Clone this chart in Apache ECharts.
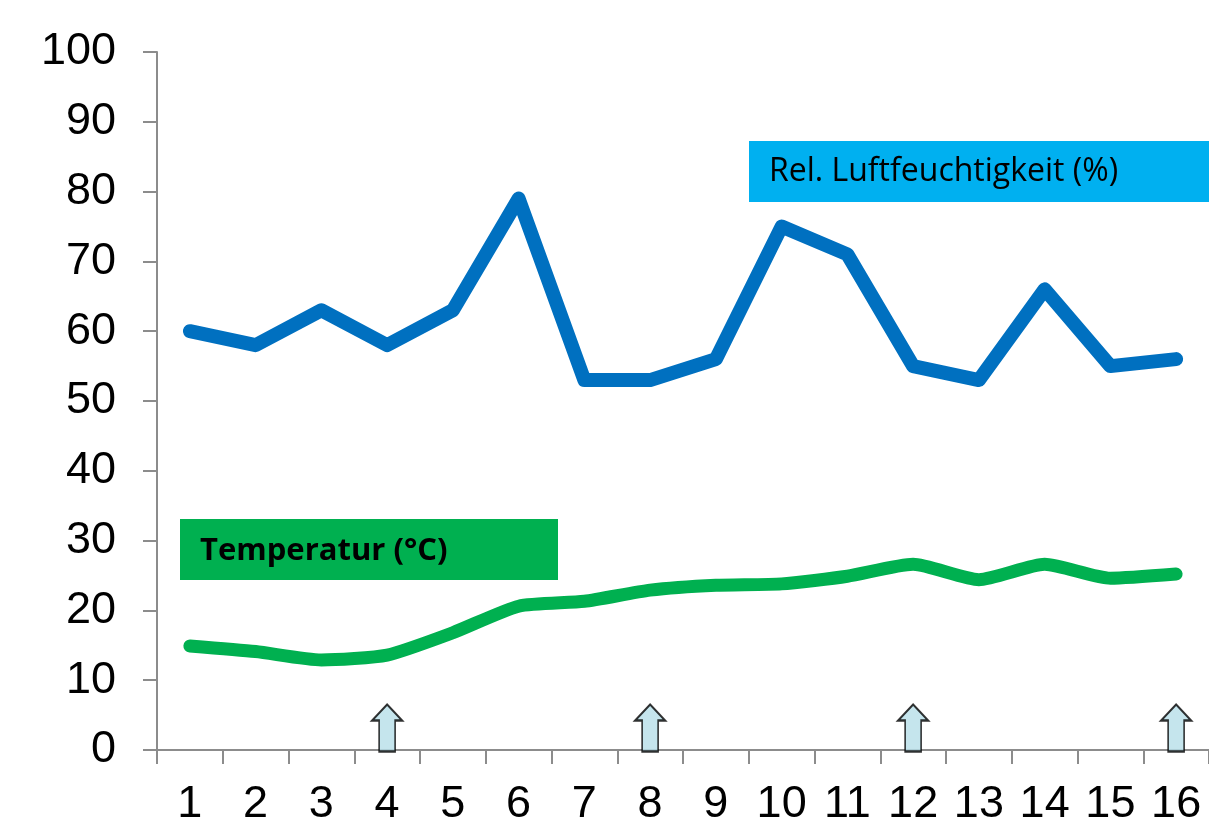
<!DOCTYPE html>
<html>
<head>
<meta charset="utf-8">
<script src="https://cdn.jsdelivr.net/npm/echarts@6/dist/echarts.min.js"></script>
<style>
  html, body { margin: 0; padding: 0; background: #fff; }
  #chart { width: 1209px; height: 828px; }
</style>
</head>
<body>
<div id="chart"></div>
<script>
const days = ['1', '2', '3', '4', '5', '6', '7', '8', '9', '10', '11', '12', '13', '14', '15', '16']
const humidity = [60, 58, 63, 58, 63, 79, 53, 53, 56, 75, 71, 55, 53, 66, 55, 56]
const temperature = [14.9, 14.1, 12.9, 13.6, 16.8, 20.6, 21.3, 22.9, 23.6, 23.8, 24.9, 26.6, 24.4, 26.6, 24.6, 25.2]
const markerDays = ['4', '8', '12', '16']
const humidityLabel = 'Rel. Luftfeuchtigkeit (%)'
const temperatureLabel = 'Temperatur (°C)'

const arrowPath = 'path://M7,47 L7,16 L0,16 L15,0 L30,16 L23,16 L23,47 Z'

const chart = echarts.init(document.getElementById('chart'))
const option = {
  animation: false,
  grid: {
    left: 157,
    top: 52,
    bottom: 78,
    width: 1060
  },
  xAxis: {
    type: 'category',
    data: days,
    boundaryGap: true,
    axisLine: { lineStyle: { color: '#8c8c8c', width: 2 } },
    axisTick: { show: true, length: 14, lineStyle: { color: '#8c8c8c', width: 2 } },
    axisLabel: {
      margin: 32,
      interval: 0,
      color: '#000',
      fontSize: 45,
      fontFamily: 'Liberation Sans'
    },
    splitLine: { show: false }
  },
  yAxis: {
    type: 'value',
    min: 0,
    max: 100,
    interval: 10,
    axisLine: { show: true, lineStyle: { color: '#8c8c8c', width: 2 } },
    axisTick: { show: true, length: 14, lineStyle: { color: '#8c8c8c', width: 2 } },
    axisLabel: {
      margin: 41,
      color: '#000',
      fontSize: 45,
      fontFamily: 'Liberation Sans'
    },
    splitLine: { show: false }
  },
  series: [
    {
      name: humidityLabel,
      type: 'line',
      data: humidity,
      symbol: 'none',
      lineStyle: { color: '#0070C0', width: 14, cap: 'round', join: 'round' },
      z: 3
    },
    {
      name: temperatureLabel,
      type: 'line',
      data: temperature,
      symbol: 'none',
      smooth: 0.2,
      lineStyle: { color: '#00B050', width: 13, cap: 'round', join: 'round' },
      z: 3
    },
    {
      type: 'scatter',
      data: markerDays.map(d => [d, 0]),
      symbol: arrowPath,
      symbolSize: [30, 47],
      symbolOffset: [0, -22],
      itemStyle: { color: '#B7DEE8', borderColor: '#000', borderWidth: 2 },
      z: 4
    }
  ],
  graphic: [
    {
      type: 'group',
      left: 749,
      top: 141,
      children: [
        { type: 'rect', shape: { x: 0, y: 0, width: 470, height: 61 }, style: { fill: '#00B0F0' } },
        {
          type: 'text', x: 20, y: 31,
          style: { text: humidityLabel, fill: '#000', font: '32px "Open Sans"', verticalAlign: 'middle' }
        }
      ]
    },
    {
      type: 'group',
      left: 180,
      top: 519,
      children: [
        { type: 'rect', shape: { x: 0, y: 0, width: 378, height: 61 }, style: { fill: '#00B050' } },
        {
          type: 'text', x: 20, y: 32,
          style: { text: temperatureLabel, fill: '#000', font: 'bold 31px "Open Sans"', verticalAlign: 'middle' }
        }
      ]
    }
  ]
}
chart.setOption(option)
</script>
</body>
</html>
